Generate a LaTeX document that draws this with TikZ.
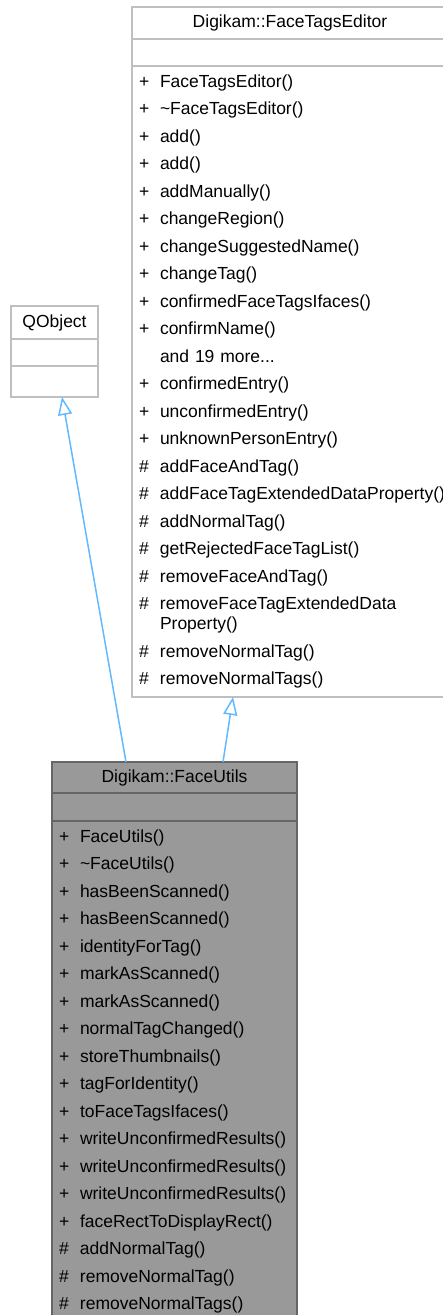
\documentclass[tikz,border=0pt]{standalone}
\usepackage{fontspec}
\setmainfont{Liberation Sans}
\usetikzlibrary{positioning,arrows.meta}

\definecolor{edgeblue}{HTML}{63B8FF}
\definecolor{lightframe}{HTML}{BFBFBF}
\definecolor{darkframe}{HTML}{666666}
\definecolor{darkfill}{HTML}{999999}

\newcommand{\pubm}[1]{\makebox[21pt][l]{+}#1}
\newcommand{\protm}[1]{\makebox[21pt][l]{\#}#1}
\newcommand{\nom}[1]{\makebox[21pt][l]{}#1}

\begin{document}
\begin{tikzpicture}[
    x=1pt, y=1pt,
    font=\fontsize{17.5}{27.5}\selectfont,
    cell/.style={rectangle, draw=lightframe, fill=white, line width=1.5pt, outer sep=0pt, inner sep=0pt},
    hlcell/.style={cell, draw=darkframe, fill=darkfill},
    members/.style={align=left, inner xsep=7pt, inner ysep=0pt},
    inherit/.style={-{Triangle[open, length=18pt, width=14pt]}, draw=edgeblue, line width=1.5pt}
]
\useasboundingbox (0,0) rectangle (443,-1315);
\clip (0,0) rectangle (443,-1315);

% Base class: QObject
\node[cell, anchor=north west, minimum width=87pt, minimum height=33pt] (qobject) at (11,-306) {QObject};
\node[cell, minimum width=87pt, minimum height=27pt, below=0pt of qobject] (qobjectattr) {};
\node[cell, minimum width=87pt, minimum height=31pt, below=0pt of qobjectattr] (qobjectops) {};

% Base class: Digikam::FaceTagsEditor
\node[cell, anchor=north west, minimum width=316pt, minimum height=32pt] (editor) at (132,-7) {Digikam::FaceTagsEditor};
\node[cell, minimum width=316pt, minimum height=27pt, below=0pt of editor] (editorattr) {};
\node[cell, members, text width=302pt, minimum height=631pt, below=0pt of editorattr] (editorops) {%
\pubm{FaceTagsEditor()}\\ \pubm{\textasciitilde FaceTagsEditor()}\\ \pubm{add()}\\ \pubm{add()}\\
\pubm{addManually()}\\ \pubm{changeRegion()}\\ \pubm{changeSuggestedName()}\\ \pubm{changeTag()}\\
\pubm{confirmedFaceTagsIfaces()}\\ \pubm{confirmName()}\\ \nom{and 19 more...}\\
\pubm{confirmedEntry()}\\ \pubm{unconfirmedEntry()}\\ \pubm{unknownPersonEntry()}\\
\protm{addFaceAndTag()}\\ \protm{addFaceTagExtendedDataProperty()}\\ \protm{addNormalTag()}\\
\protm{getRejectedFaceTagList()}\\ \protm{removeFaceAndTag()}\\
\protm{removeFaceTagExtendedData}\\[-7.5pt] \nom{Property()}\\
\protm{removeNormalTag()}\\ \protm{removeNormalTags()}};

% Derived class: Digikam::FaceUtils
\node[hlcell, anchor=north west, minimum width=245pt, minimum height=31pt] (faceutils) at (52,-762) {Digikam::FaceUtils};
\node[hlcell, minimum width=245pt, minimum height=28pt, below=0pt of faceutils] (faceutilsattr) {};
\node[hlcell, members, text width=231pt, minimum height=501pt, below=0pt of faceutilsattr] (faceutilsops) {%
\pubm{FaceUtils()}\\ \pubm{\textasciitilde FaceUtils()}\\ \pubm{hasBeenScanned()}\\ \pubm{hasBeenScanned()}\\
\pubm{identityForTag()}\\ \pubm{markAsScanned()}\\ \pubm{markAsScanned()}\\ \pubm{normalTagChanged()}\\
\pubm{storeThumbnails()}\\ \pubm{tagForIdentity()}\\ \pubm{toFaceTagsIfaces()}\\
\pubm{writeUnconfirmedResults()}\\ \pubm{writeUnconfirmedResults()}\\ \pubm{writeUnconfirmedResults()}\\
\pubm{faceRectToDisplayRect()}\\ \protm{addNormalTag()}\\ \protm{removeNormalTag()}\\ \protm{removeNormalTags()}};

% Inheritance arrows
\draw[inherit] ([xshift=74pt]faceutils.north west) -- ([xshift=51pt]qobjectops.south west);
\draw[inherit] ([xshift=171pt]faceutils.north west) -- ([xshift=101pt]editorops.south west);

\end{tikzpicture}
\end{document}
